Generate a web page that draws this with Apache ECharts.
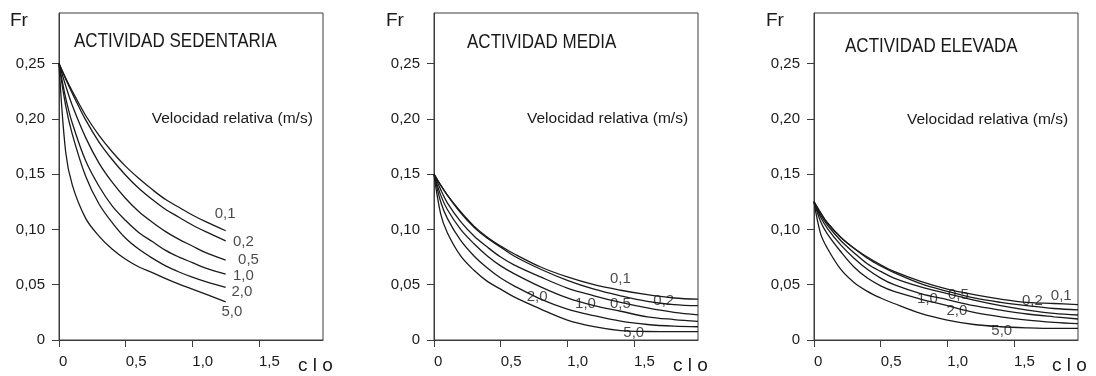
<!DOCTYPE html>
<html><head><meta charset="utf-8">
<script src="https://cdn.jsdelivr.net/npm/echarts@6/dist/echarts.min.js"></script>
<style>html,body{margin:0;padding:0;background:#fff}#c{width:1096px;height:376px}</style>
</head><body><div id="c"></div>
<script>
// ---- data ----
const speeds = ['0,1', '0,2', '0,5', '1,0', '2,0', '5,0'];
const yTicks = [0, 0.05, 0.10, 0.15, 0.20, 0.25];
const xTicks = [0, 0.5, 1.0, 1.5];
const panelTitles = ['ACTIVIDAD SEDENTARIA', 'ACTIVIDAD MEDIA', 'ACTIVIDAD ELEVADA'];

// Actividad sedentaria
const cloSed = [0, 0.05, 0.1, 0.2, 0.3, 0.4, 0.5, 0.6, 0.7, 0.8, 0.9, 1.0, 1.1, 1.25];
const sed01 = [0.250, 0.237, 0.225, 0.203, 0.185, 0.170, 0.157, 0.146, 0.136, 0.127, 0.120, 0.113, 0.107, 0.0988];
const sed02 = [0.250, 0.236, 0.223, 0.199, 0.179, 0.163, 0.149, 0.137, 0.127, 0.118, 0.111, 0.104, 0.098, 0.0897];
const sed05 = [0.250, 0.230, 0.212, 0.183, 0.160, 0.1425, 0.128, 0.116, 0.1065, 0.098, 0.091, 0.085, 0.079, 0.0723];
const sed10 = [0.250, 0.219, 0.196, 0.162, 0.139, 0.121, 0.108, 0.097, 0.089, 0.081, 0.075, 0.070, 0.065, 0.0596];
const sed20 = [0.250, 0.212, 0.186, 0.148, 0.123, 0.106, 0.092, 0.082, 0.074, 0.067, 0.0615, 0.0568, 0.0527, 0.0476];
const sed50 = [0.250, 0.170, 0.140, 0.110, 0.094, 0.082, 0.073, 0.066, 0.061, 0.0555, 0.0505, 0.046, 0.0415, 0.0345];

// Actividad media / elevada share the clo grid
const cloWide = [0, 0.05, 0.1, 0.2, 0.3, 0.4, 0.5, 0.6, 0.8, 1.0, 1.2, 1.4, 1.6, 1.8, 1.98];
const med01 = [0.150, 0.140, 0.131, 0.116, 0.103, 0.093, 0.085, 0.078, 0.066, 0.057, 0.050, 0.045, 0.041, 0.038, 0.037];
const med02 = [0.150, 0.140, 0.131, 0.115, 0.102, 0.092, 0.084, 0.076, 0.064, 0.054, 0.046, 0.040, 0.035, 0.032, 0.031];
const med05 = [0.150, 0.136, 0.124, 0.107, 0.094, 0.084, 0.075, 0.068, 0.057, 0.047, 0.040, 0.034, 0.029, 0.025, 0.0228];
const med10 = [0.150, 0.131, 0.118, 0.100, 0.087, 0.076, 0.067, 0.060, 0.048, 0.038, 0.031, 0.026, 0.021, 0.0185, 0.0168];
const med20 = [0.150, 0.125, 0.110, 0.090, 0.076, 0.065, 0.056, 0.049, 0.037, 0.028, 0.022, 0.017, 0.014, 0.0125, 0.012];
const med50 = [0.150, 0.114, 0.097, 0.076, 0.063, 0.053, 0.046, 0.039, 0.028, 0.018, 0.012, 0.0085, 0.0077, 0.0075, 0.0075];

const ele01 = [0.125, 0.115, 0.106, 0.093, 0.083, 0.075, 0.068, 0.062, 0.053, 0.046, 0.041, 0.037, 0.034, 0.033, 0.032];
const ele02 = [0.125, 0.115, 0.106, 0.093, 0.083, 0.074, 0.067, 0.061, 0.051, 0.044, 0.038, 0.034, 0.031, 0.0285, 0.0272];
const ele05 = [0.125, 0.113, 0.104, 0.090, 0.079, 0.069, 0.062, 0.056, 0.048, 0.042, 0.036, 0.031, 0.027, 0.024, 0.0226];
const ele10 = [0.125, 0.111, 0.101, 0.086, 0.074, 0.064, 0.056, 0.050, 0.042, 0.0365, 0.031, 0.027, 0.0235, 0.021, 0.019];
const ele20 = [0.125, 0.107, 0.096, 0.080, 0.066, 0.056, 0.049, 0.044, 0.037, 0.031, 0.025, 0.021, 0.018, 0.016, 0.0148];
const ele50 = [0.125, 0.096, 0.083, 0.064, 0.052, 0.044, 0.038, 0.033, 0.024, 0.018, 0.014, 0.012, 0.011, 0.0105, 0.0105];

// curve-label anchors (clo, Fr) per panel, in speeds order
const labelAt = [
  [[1.168, 0.1143], [1.305, 0.0888], [1.343, 0.0723], [1.305, 0.0578], [1.293, 0.0438], [1.218, 0.0257]],
  [[1.32, 0.0553], [1.645, 0.0355], [1.32, 0.0326], [1.058, 0.0326], [0.695, 0.0388], [1.42, 0.0063]],
  [[1.776, 0.040], [1.56, 0.0355], [1.005, 0.041], [0.773, 0.037], [0.993, 0.0264], [1.33, 0.008]]
];

// ---- chart ----
const FONT = "'Liberation Sans', Arial, Helvetica, sans-serif";
const INK = '#1a1a1a';
const FRAME = '#3c3c3c';
const panels = [
  { clo: cloSed, curves: [sed01, sed02, sed05, sed10, sed20, sed50] },
  { clo: cloWide, curves: [med01, med02, med05, med10, med20, med50] },
  { clo: cloWide, curves: [ele01, ele02, ele05, ele10, ele20, ele50] }
];
const gridLefts = [59, 434, 814];

const grid = [], xAxis = [], yAxis = [], series = [];
panels.forEach((p, i) => {
  grid.push({ left: gridLefts[i], top: 13, width: 264, height: 327, show: true,
    borderColor: FRAME, borderWidth: 1, backgroundColor: 'transparent',
    containLabel: false, outerBoundsMode: 'none' });
  xAxis.push({ type: 'value', gridIndex: i, min: 0, max: 1.98,
    axisLine: { show: true, lineStyle: { color: FRAME, width: 1 } },
    axisTick: { show: true, inside: false, length: 7, customValues: xTicks, lineStyle: { color: FRAME } },
    axisLabel: { show: true, customValues: xTicks, margin: 14, align: 'left', color: INK,
      fontSize: 15, fontFamily: FONT,
      formatter: v => v === 0 ? '0' : v.toFixed(1).replace('.', ',') },
    splitLine: { show: false } });
  yAxis.push({ type: 'value', gridIndex: i, min: 0, max: 0.2957,
    axisLine: { show: true, lineStyle: { color: FRAME, width: 1 } },
    axisTick: { show: true, inside: false, length: 7, customValues: yTicks, lineStyle: { color: FRAME } },
    axisLabel: { show: true, customValues: yTicks, margin: 14, color: INK,
      fontSize: 15, fontFamily: FONT,
      formatter: v => v === 0 ? '0' : v.toFixed(2).replace('.', ',') },
    splitLine: { show: false } });
  p.curves.forEach((vals, k) => {
    series.push({ type: 'line', name: speeds[k], xAxisIndex: i, yAxisIndex: i,
      data: p.clo.map((c, j) => [c, vals[j]]),
      smooth: 0.35, showSymbol: false, symbol: 'none',
      lineStyle: { color: INK, width: 1.3 }, silent: true, z: 3 });
  });
  series.push({ type: 'scatter', xAxisIndex: i, yAxisIndex: i, symbolSize: 0,
    itemStyle: { color: 'transparent' }, silent: true, z: 5,
    data: labelAt[i].map((pt, k) => ({ value: pt, name: speeds[k] })),
    label: { show: true, formatter: '{b}', position: [0, 0], align: 'left', verticalAlign: 'middle',
      color: INK, fontSize: 15, fontFamily: FONT } });
});

const graphic = [];
const titlePos = [[74, 41.2], [467, 42.3], [845, 46.5]];
const velPos = [[151.7, 119], [527, 119], [907, 119.6]];
const frPos = [[10, 20.6], [386, 21], [766, 21]];
const cloPos = [[298, 365.8], [673, 365.8], [1052, 365.8]];
for (let i = 0; i < 3; i++) {
  graphic.push({ type: 'text', x: titlePos[i][0], y: titlePos[i][1], scaleX: 0.81, z: 10,
    style: { text: panelTitles[i], fontSize: 21, fontFamily: FONT, fill: INK, align: 'left', verticalAlign: 'middle' } });
  graphic.push({ type: 'text', x: velPos[i][0], y: velPos[i][1], z: 10,
    style: { text: 'Velocidad relativa (m/s)', fontSize: 15.5, fontFamily: FONT, fill: INK, align: 'left', verticalAlign: 'middle' } });
  graphic.push({ type: 'text', x: frPos[i][0], y: frPos[i][1], z: 10,
    style: { text: 'Fr', fontSize: 19, fontFamily: FONT, fill: INK, align: 'left', verticalAlign: 'middle' } });
  graphic.push({ type: 'text', x: cloPos[i][0], y: cloPos[i][1], z: 10,
    style: { text: 'c l o', fontSize: 19, fontFamily: FONT, fill: INK, align: 'left', verticalAlign: 'middle' } });
}

const chart = echarts.init(document.getElementById('c'), null, { renderer: 'canvas' });
chart.setOption({ animation: false, backgroundColor: '#ffffff', grid, xAxis, yAxis, series, graphic,
  legend: { show: false }, tooltip: { show: false } });
</script>
</body></html>
